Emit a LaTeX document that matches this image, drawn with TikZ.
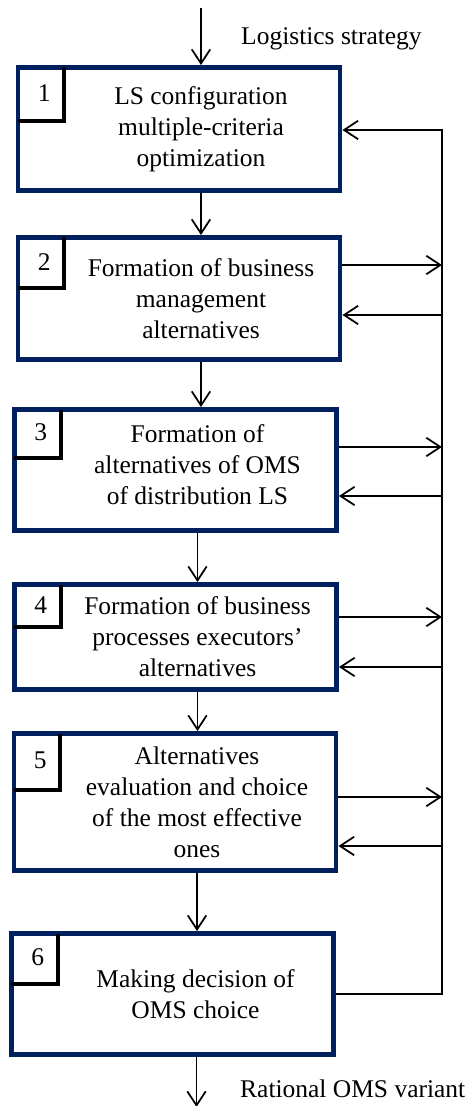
\documentclass[tikz,border=0pt]{standalone}
\usepackage{fontspec}
\setmainfont{Liberation Serif}
\usepackage{xcolor}
\usetikzlibrary{arrows.meta,calc,positioning}
\definecolor{boxblue}{RGB}{0,32,96}
\tikzset{
  stepbox/.style={rectangle, draw=boxblue, fill=white, line width=2.8pt, minimum width=6.44cm},
  numbox/.style={rectangle, anchor=north west, inner sep=0pt, minimum width=0.96cm},
  flow/.style={->, line width=1pt}
}

\begin{document}
\begin{tikzpicture}[>={Straight Barb[length=8pt,width=10.5pt]}, font=\fontsize{14.5}{17.6}\selectfont]
\useasboundingbox (0,0) rectangle (9.42,-22.12);
% --- Steps ---
\node[stepbox, minimum height=2.46cm] (B1) at (3.58,-2.58) {};
\node[stepbox, minimum height=2.44cm] (B2) at (3.58,-5.97) {};
\node[stepbox, minimum height=2.42cm] (B3) at (3.51,-9.40) {};
\node[stepbox, minimum height=2.10cm] (B4) at (3.51,-12.74) {};
\node[stepbox, minimum height=2.74cm] (B5) at (3.50,-16.04) {};
\node[stepbox, minimum height=2.42cm] (B6) at (3.45,-19.88) {};
% Step texts
\node[align=center] (T1) at ([xshift=0.44cm]B1.center) {LS configuration\\multiple-criteria\\optimization};
\node[align=center] (T2) at ([xshift=0.44cm]B2.center) {Formation of business\\management\\alternatives};
\node[align=center] (T3) at ([xshift=0.44cm, yshift=0.1cm]B3.center) {Formation of\\alternatives of OMS\\of distribution LS};
\node[align=center] (T4) at ([xshift=0.44cm]B4.center) {Formation of business\\processes executors'\\alternatives};
\node[align=center] (T5) at ([xshift=0.44cm]B5.center) {Alternatives\\evaluation and choice\\of the most effective\\ones};
\node[align=center] (T6) at ([xshift=0.46cm]B6.center) {Making decision of\\OMS choice};
% Number squares (corner of each step)
\foreach \i/\h in {1/1.11, 2/1.05, 3/1.01, 4/0.89, 5/1.17, 6/1.05} {
    \node[numbox, minimum height=\h cm] (N\i) at (B\i.north west) {};
    \draw[line width=2.4pt] ([yshift=-1.4pt]N\i.north east) |- ([xshift=1.4pt]N\i.south west);
    \node (D\i) at ([xshift=2.5pt]N\i.center) {\i};
}
% Input and output
\coordinate (In) at ([xshift=0.44cm, yshift=1.15cm]B1.north);
\coordinate (Out) at ([xshift=0.48cm, yshift=-1.0cm]B6.south);
\draw[flow] (In) -- ([xshift=0.44cm]B1.north);
\draw[flow] ([xshift=0.48cm]B6.south) -- (Out);
\node[anchor=base west] (LSlabel) at (4.70,-0.90) {Logistics strategy};
\node[anchor=base west] (OMSlabel) at (4.68,-21.94) {Rational OMS variant};
% Step to step
\foreach \i [evaluate={\j=int(\i+1);}] in {1,...,5} {
    \draw[flow] ([xshift=0.44cm]B\i.south) -- ([xshift=0.44cm]B\i.south |- B\j.north);
}
% Feedback line on the right
\coordinate (Bus) at (8.84,-2.60);
\draw[flow] (B6.east) -| (Bus) -- (B1.east |- Bus);
\foreach \i/\o/\n in {2/0.67/-0.33, 3/0.46/-0.52, 4/0.40/-0.60, 5/0.10/-0.88} {
    \coordinate (O\i) at ([yshift=\o cm]B\i.east);
    \coordinate (R\i) at ([yshift=\n cm, xshift=-0.06cm]B\i.east);
    \draw[flow] (O\i) -- (O\i -| Bus);
    \draw[flow] (R\i -| Bus) -- ([yshift=\n cm]B\i.east);
}
\end{tikzpicture}
\end{document}
